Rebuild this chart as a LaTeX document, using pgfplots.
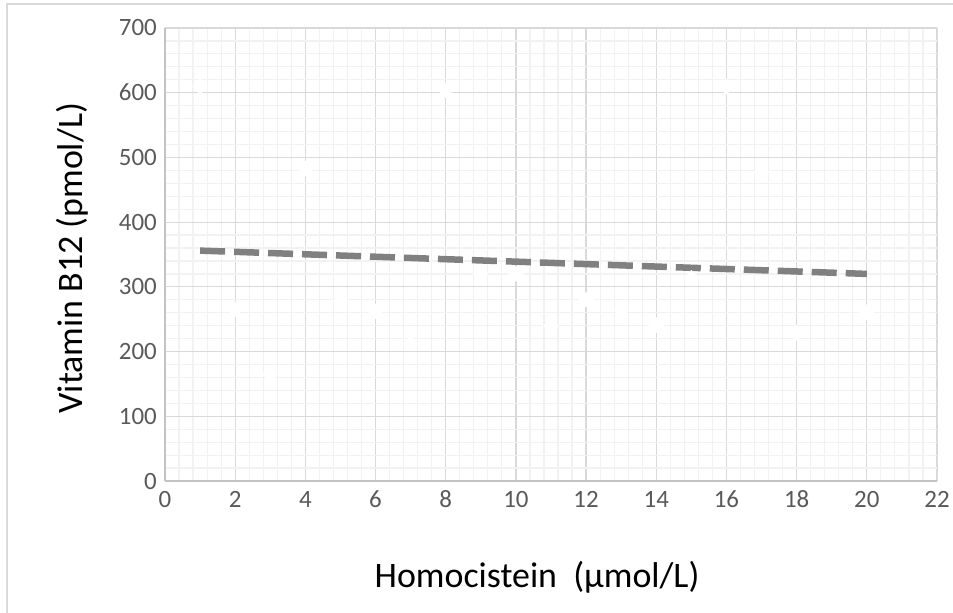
\documentclass[border=0pt]{standalone}
\usepackage{fontspec}
\setmainfont{Carlito}
\usepackage{pgfplots}
\pgfplotsset{compat=1.18}
\definecolor{majgrid}{HTML}{D9D9D9}
\definecolor{mingrid}{HTML}{F2F2F2}
\definecolor{ticktxt}{HTML}{595959}
\definecolor{trend}{HTML}{808080}
\begin{document}
\begin{tikzpicture}
\begin{axis}[
  at={(0bp,0bp)}, anchor=south west,
  scale only axis, width=772bp, height=453bp,
  xmin=0, xmax=22, ymin=0, ymax=700,
  xtick distance=2, ytick distance=100,
  minor x tick num=4, minor y tick num=4,
  grid=both,
  major grid style={draw=majgrid, line width=1.2bp},
  minor grid style={draw=mingrid, line width=1.2bp},
  axis lines*=left,
  axis line style={draw=majgrid!90!black, line width=1.5bp},
  major tick length=0pt, minor tick length=0pt,
  /pgf/number format/assume math mode=true,
  tick label style={font=\fontsize{25}{29}\selectfont, text=ticktxt, inner sep=0pt},
  yticklabel style={anchor=base east, xshift=-8bp, yshift=-8bp},
  xticklabel style={anchor=base, yshift=-26bp},
  xlabel={Homocistein\ \ (µmol/L)},
  ylabel={Vitamin B12 (pmol/L)},
  every axis x label/.style={at={(axis description cs:0.482,-0.212)}, anchor=center,
    font=\fontsize{36}{40}\selectfont},
  every axis y label/.style={at={(axis description cs:-0.1205,0.492)}, anchor=center, rotate=90,
    font=\fontsize{36}{40}\selectfont},
  clip=false,
]
\addplot[only marks, mark=square*, mark size=5.3bp,
  mark options={rotate=45, fill=white, draw=white}] coordinates {
(1,610) (2,265) (3,165) (4,483) (5,278) (6,262) (7,212) (8,604) (9,320) (10,320)
(11,240) (12,280) (13,264) (14,241) (15,314) (16,609) (17,478) (18,229) (20,261)};
\addplot[trend, line width=6.5bp, dash pattern=on 25bp off 9bp] coordinates {
(1,356) (20,320)};
\end{axis}
\draw[majgrid, line width=1.5bp] (-158bp,-132bp) -- (-158bp,477bp) -- (788bp,477bp);
\pgfresetboundingbox
\path (-165bp,-132bp) rectangle (788bp,481bp);
\end{tikzpicture}
\end{document}
